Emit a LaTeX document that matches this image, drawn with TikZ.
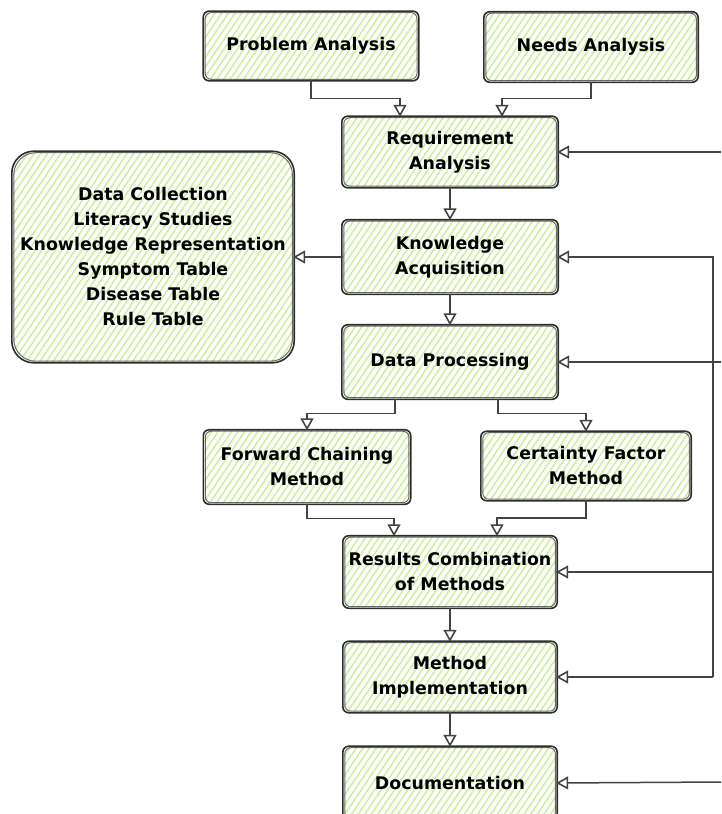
\documentclass[tikz,border=0pt]{standalone}
\usepackage{fontspec}
\setmainfont{DejaVu Sans}
\usetikzlibrary{arrows.meta,patterns.meta}
\definecolor{ink}{HTML}{2E2E2E}
\definecolor{hatch}{RGB}{208,238,160}
\begin{document}
\begin{tikzpicture}[x=1pt,y=-1pt,
  box/.style={align=center, inner sep=0pt, rounded corners=6pt,
    pattern={Lines[angle=56,distance=5.5pt,line width=1.6pt]}, pattern color=hatch,
    font=\fontsize{17.4}{25}\selectfont\bfseries, text=black},
  sk/.style={draw=ink, line width=1.6pt, rounded corners=6pt},
  arr/.style={draw=ink!90, line width=1.5pt, -{Triangle[open,length=12pt,width=13pt,line width=1.6pt]}},
  ln/.style={draw=ink, line width=1.5pt}]
\useasboundingbox (0,0) rectangle (721,814);
% nodes
\node[box, minimum width=212pt, minimum height=67pt] (pa) at (311,46) {Problem Analysis};
\node[box, minimum width=212pt, minimum height=69pt] (na) at (591,47) {Needs Analysis};
\node[box, minimum width=214pt, minimum height=70pt] (ra) at (450,152) {Requirement\\Analysis};
\node[box, minimum width=214pt, minimum height=73pt] (ka) at (450,257) {Knowledge\\Acquisition};
\node[box, rounded corners=22pt, minimum width=280pt, minimum height=210pt] (info) at (153,257)
  {Data Collection\\Literacy Studies\\Knowledge Representation\\Symptom Table\\Disease Table\\Rule Table};
\node[box, minimum width=214pt, minimum height=73pt] (dp) at (450,362) {Data Processing};
\node[box, minimum width=205pt, minimum height=73pt] (fc) at (307,467) {Forward Chaining\\Method};
\node[box, minimum width=208pt, minimum height=68pt] (cf) at (586,466) {Certainty Factor\\Method};
\node[box, minimum width=212pt, minimum height=71pt] (rc) at (450,572) {Results Combination\\of Methods};
\node[box, minimum width=212pt, minimum height=70pt] (mi) at (450,677) {Method\\Implementation};
\node[box, minimum width=212pt, minimum height=72pt] (doc) at (450,783) {Documentation};
% sketchy outlines
\foreach \n in {pa,na,ra,ka,dp,fc,cf,rc,mi,doc} {
  \draw[sk] ([shift={(-1,0.6)}]\n.south west) rectangle ([shift={(1,-0.6)}]\n.north east);
  \draw[sk, line width=1pt, opacity=.7] ([shift={(1,-1)}]\n.south west) rectangle ([shift={(-0.8,0.9)}]\n.north east);
}
\draw[sk, rounded corners=22pt] ([shift={(-1,0.6)}]info.south west) rectangle ([shift={(1,-0.6)}]info.north east);
\draw[sk, rounded corners=22pt, line width=1pt, opacity=.7] ([shift={(1,-1)}]info.south west) rectangle ([shift={(-0.8,0.9)}]info.north east);
% coordinates for free ends
\coordinate (inra) at (721,152);
\coordinate (indp) at (721,362);
\coordinate (indoc) at (721,782);
\coordinate (vmi) at (713,677);
\coordinate (vrc) at (vmi |- rc.east);
% connectors
\draw[arr] (pa.south) -- ++(0,18) -| ([xshift=-50pt]ra.north);
\draw[arr] (na.south) -- ++(0,17) -| ([xshift=52pt]ra.north);
\draw[arr] (inra) -- (ra.east);
\draw[arr] (ra.south) -- (ka.north);
\draw[arr] (ka.west) -- (info.east);
\draw[arr] (ka.south) -- (dp.north);
\draw[arr] (vmi) |- (ka.east);
\draw[arr] (vrc) -- (rc.east);
\draw[arr] (vmi) -- (mi.east);
\draw[arr] (indp) -- (dp.east);
\draw[arr] ([xshift=-55pt]dp.south) -- ++(0,15) -| (fc.north);
\draw[arr] ([xshift=48pt]dp.south) -- ++(0,15) -| (cf.north);
\draw[arr] (fc.south) -- ++(0,15) -| ([xshift=-56pt]rc.north);
\draw[arr] (cf.south) -- ++(0,18) -| ([xshift=47pt]rc.north);
\draw[arr] (rc.south) -- (mi.north);
\draw[arr] (mi.south) -- (doc.north);
\draw[arr] (indoc) -- (doc.east);
\end{tikzpicture}
\end{document}
